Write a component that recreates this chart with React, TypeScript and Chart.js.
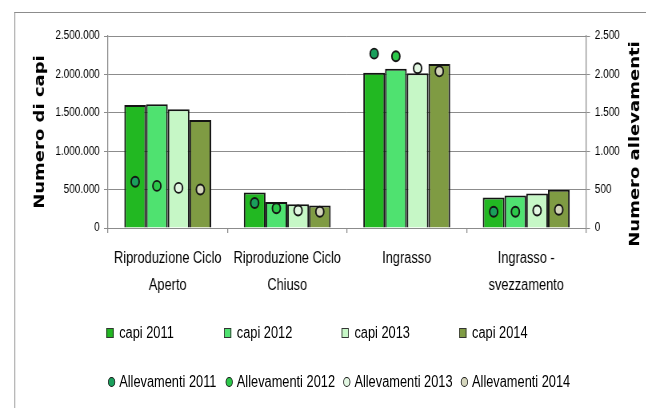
import React, { useEffect, useRef } from "react";
import { Chart, registerables } from "chart.js";

Chart.register(...registerables);

// ---------- data ----------
const categories: (string | string[])[] = [
  ["Riproduzione Ciclo", "Aperto"],
  ["Riproduzione Ciclo", "Chiuso"],
  "Ingrasso",
  ["Ingrasso -", "svezzamento"],
];

const capi2011 = [1600000, 462000, 2020000, 397000];
const capi2012 = [1610000, 337000, 2072000, 423000];
const capi2013 = [1545000, 310000, 2016000, 449000];
const capi2014 = [1405000, 292000, 2136000, 498000];

const allev2011 = [602, 325, 2270, 211];
const allev2012 = [548, 258, 2237, 211];
const allev2013 = [522, 228, 2080, 228];
const allev2014 = [502, 211, 2040, 238];

const capiLabels = ["capi 2011", "capi 2012", "capi 2013", "capi 2014"];
const allevLabels = [
  "Allevamenti 2011",
  "Allevamenti 2012",
  "Allevamenti 2013",
  "Allevamenti 2014",
];

const leftTicks = [0, 500000, 1000000, 1500000, 2000000, 2500000];
const rightTicks = [0, 500, 1000, 1500, 2000, 2500];

const LEFT_TITLE = "Numero di capi";
const RIGHT_TITLE = "Numero allevamenti";

// ---------- styles ----------
const capiColors = ["#22b822", "#4fe270", "#c6f7c6", "#7f9b43"];
const allevColors = ["#1a9f5c", "#2cc84a", "#e2f7e2", "#d5d6bd"];
const FONT = '"Liberation Sans", Arial, sans-serif';
const TITLE_FONT = '"DejaVu Sans", Verdana, sans-serif';
const GRID = "#8c8c8c";
const SX = 0.8; // horizontal compression of the whole picture
const CW = 808;
const CH = 310;

const fmt = (v: number) =>
  String(Math.round(v)).replace(/\B(?=(\d{3})+(?!\d))/g, ".");

const alignPoints = {
  id: "alignPoints",
  afterDatasetsUpdate(chart: any) {
    const n = capiLabels.length;
    for (let k = 0; k < n; k++) {
      const barMeta = chart.getDatasetMeta(k);
      const ptMeta = chart.getDatasetMeta(k + n);
      ptMeta.data.forEach((pt: any, i: number) => {
        const bar = barMeta.data[i];
        if (bar) pt.x = bar.x;
      });
    }
  },
};

const rightTitle = {
  id: "rightTitle",
  afterDraw(chart: any) {
    const s = chart.scales.y1;
    const { ctx, chartArea } = chart;
    ctx.save();
    ctx.font = `bold 18px ${TITLE_FONT}`;
    ctx.fillStyle = "#000";
    ctx.textAlign = "center";
    ctx.textBaseline = "middle";
    ctx.translate(s.right - 14, (chartArea.top + chartArea.bottom) / 2 + 12);
    ctx.rotate(-Math.PI / 2);
    ctx.fillText(RIGHT_TITLE, 0, 0);
    ctx.restore();
  },
};

export default function App() {
  const ref = useRef<HTMLCanvasElement | null>(null);

  useEffect(() => {
    if (!ref.current) return;
    const capiSeries = [capi2011, capi2012, capi2013, capi2014];
    const allevSeries = [allev2011, allev2012, allev2013, allev2014];
    const datasets: any[] = [];
    capiSeries.forEach((d, k) =>
      datasets.push({
        type: "bar",
        label: capiLabels[k],
        data: d,
        yAxisID: "y",
        backgroundColor: capiColors[k],
        borderColor: "#141414",
        borderWidth: 2,
        categoryPercentage: 0.727,
        barPercentage: 1,
        order: 1,
      })
    );
    allevSeries.forEach((d, k) =>
      datasets.push({
        type: "line",
        label: allevLabels[k],
        data: d,
        yAxisID: "y1",
        showLine: false,
        pointStyle: "circle",
        pointRadius: 5,
        pointBackgroundColor: allevColors[k],
        pointBorderColor: "#141414",
        pointBorderWidth: 1.9,
        order: 0,
      })
    );

    const chart = new Chart(ref.current, {
      type: "bar",
      data: { labels: categories as any, datasets },
      plugins: [alignPoints, rightTitle],
      options: {
        responsive: false,
        animation: false,
        layout: { padding: { left: 30, top: 36, right: 0, bottom: 0 } },
        plugins: {
          legend: { display: false },
          tooltip: { enabled: false },
        },
        scales: {
          x: {
            type: "category",
            offset: true,
            grid: {
              offset: true,
              drawOnChartArea: false,
              drawTicks: true,
              tickLength: 5,
              color: GRID,
              lineWidth: 1.25,
            },
            border: { color: GRID, width: 1 },
            ticks: {
              color: "#000",
              font: { family: FONT, size: 16, lineHeight: 1.65 },
              padding: 12.5,
              maxRotation: 0,
              minRotation: 0,
              autoSkip: false,
            },
            afterFit: (s: any) => {
              s.height = 82;
            },
          },
          y: {
            type: "linear",
            position: "left",
            min: leftTicks[0],
            max: leftTicks[leftTicks.length - 1],
            afterBuildTicks: (s: any) => {
              s.ticks = leftTicks.map((v) => ({ value: v }));
            },
            ticks: {
              color: "#000",
              font: { family: FONT, size: 12.5 },
              padding: 5.2,
              callback: (v: any) => fmt(Number(v)),
            },
            grid: { color: GRID, lineWidth: 1, tickLength: 5, drawTicks: true },
            border: { color: GRID, width: 1.25 },
            title: {
              display: true,
              text: LEFT_TITLE,
              color: "#000",
              font: { family: TITLE_FONT, size: 18, weight: "bold" },
              padding: { top: 10, bottom: 0 },
            },
            afterFit: (s: any) => {
              s.width = 105;
            },
          },
          y1: {
            type: "linear",
            position: "right",
            min: rightTicks[0],
            max: rightTicks[rightTicks.length - 1],
            afterBuildTicks: (s: any) => {
              s.ticks = rightTicks.map((v) => ({ value: v }));
            },
            ticks: {
              color: "#000",
              font: { family: FONT, size: 12.5 },
              padding: 6,
              callback: (v: any) => fmt(Number(v)),
            },
            grid: {
              drawOnChartArea: false,
              color: GRID,
              lineWidth: 1,
              tickLength: 5,
              drawTicks: true,
            },
            border: { color: GRID, width: 1.25 },
            afterFit: (s: any) => {
              s.width = 75.5;
            },
          },
        },
      } as any,
    });
    return () => chart.destroy();
  }, []);

  const cell: React.CSSProperties = {
    display: "flex",
    alignItems: "center",
    height: 20,
    whiteSpace: "nowrap",
    fontFamily: FONT,
    fontSize: 16,
    color: "#000",
  };

  return (
    <div
      style={{
        position: "fixed",
        left: 0,
        top: 0,
        width: 646,
        height: 408,
        overflow: "hidden",
        background: "#fff",
      }}
    >
      <div
        style={{
          position: "absolute",
          left: 0,
          top: 0,
          width: CW,
          height: 408,
          transform: `scaleX(${SX})`,
          transformOrigin: "0 0",
        }}
      >
        <div
          style={{
            position: "absolute",
            left: 17.5,
            top: 12,
            width: 1200,
            height: 1200,
            borderLeft: `1.25px solid ${GRID}`,
            borderTop: `1px solid ${GRID}`,
          }}
        />
        <canvas
          ref={ref}
          width={CW}
          height={CH}
          style={{ position: "absolute", left: 0, top: 0, display: "block" }}
        />
        <div
          style={{
            position: "absolute",
            left: 133,
            top: 323,
            display: "grid",
            gridTemplateColumns: "repeat(4, 147px)",
            rowGap: 29,
          }}
        >
          {capiLabels.map((l, k) => (
            <div key={l} style={cell}>
              <span
                style={{
                  display: "inline-block",
                  width: 9,
                  height: 10,
                  boxSizing: "border-box",
                  border: "1.25px solid #333",
                  background: capiColors[k],
                  marginRight: 7,
                }}
              />
              {l}
            </div>
          ))}
          {allevLabels.map((l, k) => (
            <div key={l} style={cell}>
              <span
                style={{
                  display: "inline-block",
                  width: 9,
                  height: 10,
                  boxSizing: "border-box",
                  borderRadius: "50%",
                  border: "1.6px solid #1a1a1a",
                  background: allevColors[k],
                  marginLeft: 2,
                  marginRight: 5,
                }}
              />
              {l}
            </div>
          ))}
        </div>
      </div>
    </div>
  );
}
